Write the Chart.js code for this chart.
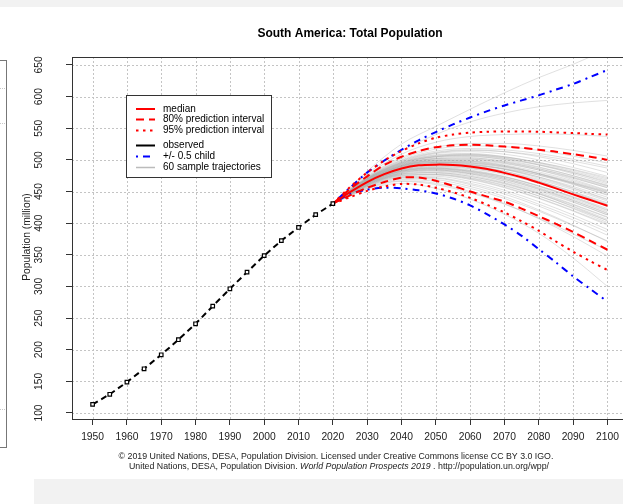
<!DOCTYPE html>
<html><head><meta charset="utf-8">
<script src="https://cdn.jsdelivr.net/npm/chart.js@4/dist/chart.umd.min.js"></script>
<style>
html,body{margin:0;padding:0;background:#fff;overflow:hidden;width:623px;height:504px;position:relative;}
#wrap{position:absolute;left:0;top:0;width:640px;height:504px;}
.band{position:absolute;background:#f2f2f2;z-index:2;}
.stub{position:absolute;left:0;width:5px;height:0;border-top:1px dotted #c8c8c8;z-index:2;}
</style></head><body>
<div id="wrap"><canvas id="c" width="640" height="504"></canvas></div>
<div class="band" style="left:0;top:0;width:623px;height:7px"></div>
<div class="band" style="left:34px;top:479px;width:589px;height:25px"></div>
<div style="position:absolute;left:-2px;top:60px;width:8px;height:386px;border:1px solid #777;border-left:none;z-index:2"></div>
<div class="stub" style="top:88px"></div>
<div class="stub" style="top:123px"></div>
<div class="stub" style="top:409px"></div>
<script>
// ---------- data ----------
const obsYears = [1950,1955,1960,1965,1970,1975,1980,1985,1990,1995,2000,2005,2010,2015,2020];
const observed = [113.7,129.6,148.8,169.9,192.0,215.8,241.0,268.8,296.3,322.6,348.8,372.4,393.2,413.4,430.8];

const projYears = [2020,2025,2030,2035,2040,2045,2050,2055,2060,2065,2070,2075,2080,2085,2090,2095,2100];
const median   = [430.8,449.0,465.0,477.5,486.5,491.5,492.5,492.0,489.5,485.5,479.5,472.5,464.0,455.0,445.5,436.5,427.5];
const pi80Up   = [430.8,454.0,474.0,492.0,505.0,514.0,520.0,523.0,524.0,523.0,521.0,519.0,516.0,513.0,509.0,505.0,500.0];
const pi80Low  = [430.8,444.0,456.0,465.0,472.0,472.0,467.0,459.0,450.0,442.0,434.0,423.0,411.0,399.0,386.0,372.0,358.0];
const pi95Up   = [430.8,457.0,480.0,499.0,514.0,526.0,535.0,540.0,543.0,544.5,545.0,545.0,544.5,543.5,542.5,541.0,540.0];
const pi95Low  = [430.8,441.0,451.0,458.0,462.0,461.0,456.0,449.0,440.0,429.0,417.0,403.0,388.0,371.0,355.0,340.0,326.0];
const childUp  = [430.8,456.0,480.0,499.0,516.0,531.0,544.0,556.0,567.0,577.0,586.0,594.0,602.0,611.0,620.0,631.0,642.0];
const childLow = [430.8,446.0,453.0,456.0,455.0,452.0,447.0,439.0,428.0,414.0,398.0,380.0,359.0,338.0,316.0,296.0,276.0];

const trajYears = [2020,2030,2040,2050,2060,2070,2080,2090,2100];
const trajectories = [
 [430.8,468,492,502,503,497,486,472,456],
 [430.8,463,481,484,478,466,449,430,410],
 [430.8,470,496,508,510,505,495,482,468],
 [430.8,460,476,477,470,457,440,420,399],
 [430.8,466,489,496,495,488,476,461,445],
 [430.8,472,500,514,518,516,510,501,490],
 [430.8,462,479,482,476,464,447,426,404],
 [430.8,467,490,498,497,490,478,463,447],
 [430.8,458,472,471,461,446,427,405,381],
 [430.8,469,494,505,508,504,496,485,472],
 [430.8,464,484,489,486,477,463,446,427],
 [430.8,471,497,510,513,509,500,488,474],
 [430.8,461,478,480,474,462,446,427,406],
 [430.8,466,488,495,493,485,471,455,437],
 [430.8,474,504,520,526,526,522,515,506],
 [430.8,459,474,474,466,452,434,413,390],
 [430.8,465,486,492,490,482,469,453,435],
 [430.8,469,493,503,505,501,492,480,466],
 [430.8,463,482,486,481,471,456,438,418],
 [430.8,467,491,500,501,496,486,473,458],
 [430.8,457,469,466,455,439,419,396,372],
 [430.8,470,495,506,508,503,493,480,464],
 [430.8,464,483,487,483,473,458,440,420],
 [430.8,468,491,499,498,491,478,462,444],
 [430.8,476,509,528,537,540,541,540,537],
 [430.8,462,480,483,478,467,451,433,413],
 [430.8,466,487,494,492,485,473,458,441],
 [430.8,460,475,476,469,456,439,419,397],
 [430.8,471,498,511,515,513,507,498,487],
 [430.8,465,485,490,487,479,466,450,432],
 [430.8,455,466,461,448,430,408,383,357],
 [430.8,469,493,502,503,498,488,475,460],
 [430.8,463,482,485,480,469,453,434,413],
 [430.8,467,489,496,494,486,473,456,438],
 [430.8,478,514,540,560,574,584,590,594],
 [430.8,461,477,479,472,460,443,423,401],
 [430.8,470,494,505,507,502,492,478,462],
 [430.8,464,484,488,484,474,459,441,421],
 [430.8,466,488,496,495,489,478,464,449],
 [430.8,458,471,469,458,442,421,397,371],
 [430.8,472,499,512,516,513,505,494,480],
 [430.8,462,480,484,479,469,454,436,416],
 [430.8,467,490,497,496,490,479,465,450],
 [430.8,456,467,463,450,431,407,379,348],
 [430.8,469,492,501,501,495,484,469,452],
 [430.8,465,486,491,488,479,465,448,429],
 [430.8,473,502,517,522,521,515,506,495],
 [430.8,460,476,477,471,459,443,424,404],
 [430.8,468,491,499,499,494,484,471,456],
 [430.8,463,482,486,482,473,459,442,423],
 [430.8,482,525,553,580,606,630,651,675],
 [430.8,454,463,455,438,414,384,345,300],
 [430.8,466,488,494,491,482,467,449,430],
 [430.8,471,496,507,509,505,496,484,470],
 [430.8,461,478,480,474,463,447,429,409],
 [430.8,467,490,498,498,492,481,467,451],
 [430.8,459,473,472,463,449,430,409,386],
 [430.8,465,486,493,492,486,476,463,448],
 [430.8,470,495,505,506,500,489,475,459],
 [430.8,464,483,487,482,471,455,436,415]
];

const xTicks = [1950,1960,1970,1980,1990,2000,2010,2020,2030,2040,2050,2060,2070,2080,2090,2100];
const yTicks = [100,150,200,250,300,350,400,450,500,550,600,650];

const titleText = 'South America: Total Population';
const yTitle = 'Population (million)';
const legendLabels = ['median','80% prediction interval','95% prediction interval','observed','+/- 0.5 child','60 sample trajectories'];
const footer1 = '\u00A9 2019 United Nations, DESA, Population Division. Licensed under Creative Commons license CC BY 3.0 IGO.';
const footer2 = ['United Nations, DESA, Population Division. ','World Population Prospects 2019',' . http://population.un.org/wpp/'];

// ---------- build ----------
const FAM = "'Liberation Sans', Arial, Helvetica, sans-serif";
const pts = (xs, ys) => xs.map((x, i) => ({x: x, y: ys[i]}));
const RED = '#ff0000', BLUE = '#0000ff';
const STY = {
  median: {color: RED, dash: []},
  p80: {color: RED, dash: [8,5]},
  p95: {color: RED, dash: [2.5,4.5]},
  obs: {color: '#000', dash: [6,4]},
  child: {color: BLUE, dash: [2,5,7,5]},
  traj: {color: 'rgba(165,165,165,0.35)', dash: []}
};
function ln(data, s, w, order, extra) {
  return Object.assign({data: data, borderColor: s.color, borderDash: s.dash, borderWidth: w,
    pointRadius: 0, fill: false, tension: 0.3, order: order}, extra || {});
}
const datasets = [];
datasets.push(ln(pts(obsYears, observed), STY.obs, 2, 0, {tension: 0, pointRadius: 2.5, pointStyle: 'rect',
  pointBackgroundColor: '#fff', pointBorderColor: '#000', pointBorderWidth: 1.2}));
datasets.push(ln(pts(projYears, median), STY.median, 2, 1));
datasets.push(ln(pts(projYears, pi80Up), STY.p80, 2, 1));
datasets.push(ln(pts(projYears, pi80Low), STY.p80, 2, 1));
datasets.push(ln(pts(projYears, pi95Up), STY.p95, 2, 1));
datasets.push(ln(pts(projYears, pi95Low), STY.p95, 2, 1));
datasets.push(ln(pts(projYears, childUp), STY.child, 2, 2));
datasets.push(ln(pts(projYears, childLow), STY.child, 2, 2));
trajectories.forEach(t => datasets.push(ln(pts(trajYears, t), STY.traj, 1, 10, {cubicInterpolationMode: 'monotone'})));

const legendRows = [109, 119.5, 130.5, 145.5, 156.5, 167.5];
const legendStyles = [[STY.median,2],[STY.p80,2],[STY.p95,2],[{color:'#000',dash:[]},2],[STY.child,2],[{color:'#bbb',dash:[]},1.5]];

const gridPlugin = {
  id: 'dotgrid',
  beforeDatasetsDraw(chart) {
    const ctx = chart.ctx, a = chart.chartArea, xs = chart.scales.x, ys = chart.scales.y;
    ctx.save();
    ctx.strokeStyle = '#c4c4c4'; ctx.lineWidth = 1; ctx.setLineDash([2, 2]);
    xTicks.forEach(v => {
      const p = Math.round(xs.getPixelForValue(v)) + 0.5;
      ctx.beginPath(); ctx.moveTo(p, a.top); ctx.lineTo(p, a.bottom); ctx.stroke();
    });
    yTicks.forEach(v => {
      const p = Math.round(ys.getPixelForValue(v)) + 0.5;
      ctx.beginPath(); ctx.moveTo(a.left, p); ctx.lineTo(a.right, p); ctx.stroke();
    });
    ctx.restore();
  }
};

const deco = {
  id: 'deco',
  afterDraw(chart) {
    const ctx = chart.ctx, a = chart.chartArea, ys = chart.scales.y;
    ctx.save();
    // plot frame
    ctx.strokeStyle = '#333'; ctx.lineWidth = 1; ctx.setLineDash([]);
    ctx.strokeRect(Math.round(a.left) + 0.5, Math.round(a.top) + 0.5, Math.round(a.right - a.left), Math.round(a.bottom - a.top));
    // y tick labels (rotated)
    ctx.fillStyle = '#222'; ctx.font = '10.3px ' + FAM; ctx.textAlign = 'center'; ctx.textBaseline = 'middle';
    yTicks.forEach(v => {
      const p = ys.getPixelForValue(v);
      ctx.save(); ctx.translate(39, p); ctx.rotate(-Math.PI / 2); ctx.fillText(String(v), 0, 0); ctx.restore();
    });
    // y title
    ctx.save(); ctx.font = '10.3px ' + FAM; ctx.translate(27, 237); ctx.rotate(-Math.PI / 2); ctx.fillText(yTitle, 0, 0); ctx.restore();
    // main title
    ctx.fillStyle = '#000'; ctx.font = 'bold 12px ' + FAM; ctx.fillText(titleText, 350, 34);
    // legend
    ctx.fillStyle = '#fff'; ctx.fillRect(127, 96, 145, 82);
    ctx.strokeStyle = '#333'; ctx.lineWidth = 1; ctx.strokeRect(126.5, 95.5, 145, 82);
    ctx.font = '10px ' + FAM; ctx.textAlign = 'left';
    legendLabels.forEach((lab, i) => {
      const y = legendRows[i]; const st = legendStyles[i];
      ctx.strokeStyle = st[0].color; ctx.lineWidth = st[1]; ctx.setLineDash(st[0].dash);
      ctx.beginPath(); ctx.moveTo(136, y); ctx.lineTo(155, y); ctx.stroke();
      ctx.setLineDash([]);
      ctx.fillStyle = '#000'; ctx.fillText(lab, 163, y);
    });
    // footer
    ctx.fillStyle = '#222'; ctx.textAlign = 'center';
    const fN = '8.8px ' + FAM, fI = 'italic 8.8px ' + FAM;
    ctx.font = fN; ctx.fillText(footer1, 336, 457);
    ctx.font = fN; const w0 = ctx.measureText(footer2[0]).width, w2 = ctx.measureText(footer2[2]).width;
    ctx.font = fI; const w1 = ctx.measureText(footer2[1]).width;
    let x = 339 - (w0 + w1 + w2) / 2; ctx.textAlign = 'left';
    ctx.font = fN; ctx.fillText(footer2[0], x, 467); x += w0;
    ctx.font = fI; ctx.fillText(footer2[1], x, 467); x += w1;
    ctx.font = fN; ctx.fillText(footer2[2], x, 467);
    ctx.restore();
  }
};

const gridCommon = {drawOnChartArea: false, color: '#c8c8c8', lineWidth: 1, tickLength: 6, tickColor: '#333', tickWidth: 1, drawTicks: true};

new Chart(document.getElementById('c'), {
  type: 'line',
  data: {datasets: datasets},
  options: {
    responsive: false, animation: false, devicePixelRatio: 1,
    layout: {padding: {left: 0, right: 12, top: 57, bottom: 0}},
    plugins: {legend: {display: false}, tooltip: {enabled: false}, title: {display: false}},
    scales: {
      x: {type: 'linear', min: 1944, max: 2106,
        afterBuildTicks: s => { s.ticks = xTicks.map(v => ({value: v})); },
        afterFit: s => { s.height = 85; },
        ticks: {callback: v => String(v), font: {family: FAM, size: 10.3}, color: '#222', padding: 6, maxRotation: 0, minRotation: 0, autoSkip: false},
        grid: gridCommon,
        border: {display: false}
      },
      y: {type: 'linear', min: 90.5, max: 662.6,
        afterBuildTicks: s => { s.ticks = yTicks.map(v => ({value: v})); },
        afterFit: s => { s.width = 72; },
        ticks: {display: false},
        grid: gridCommon,
        border: {display: false}
      }
    }
  },
  plugins: [gridPlugin, deco]
});
</script>
</body></html>
